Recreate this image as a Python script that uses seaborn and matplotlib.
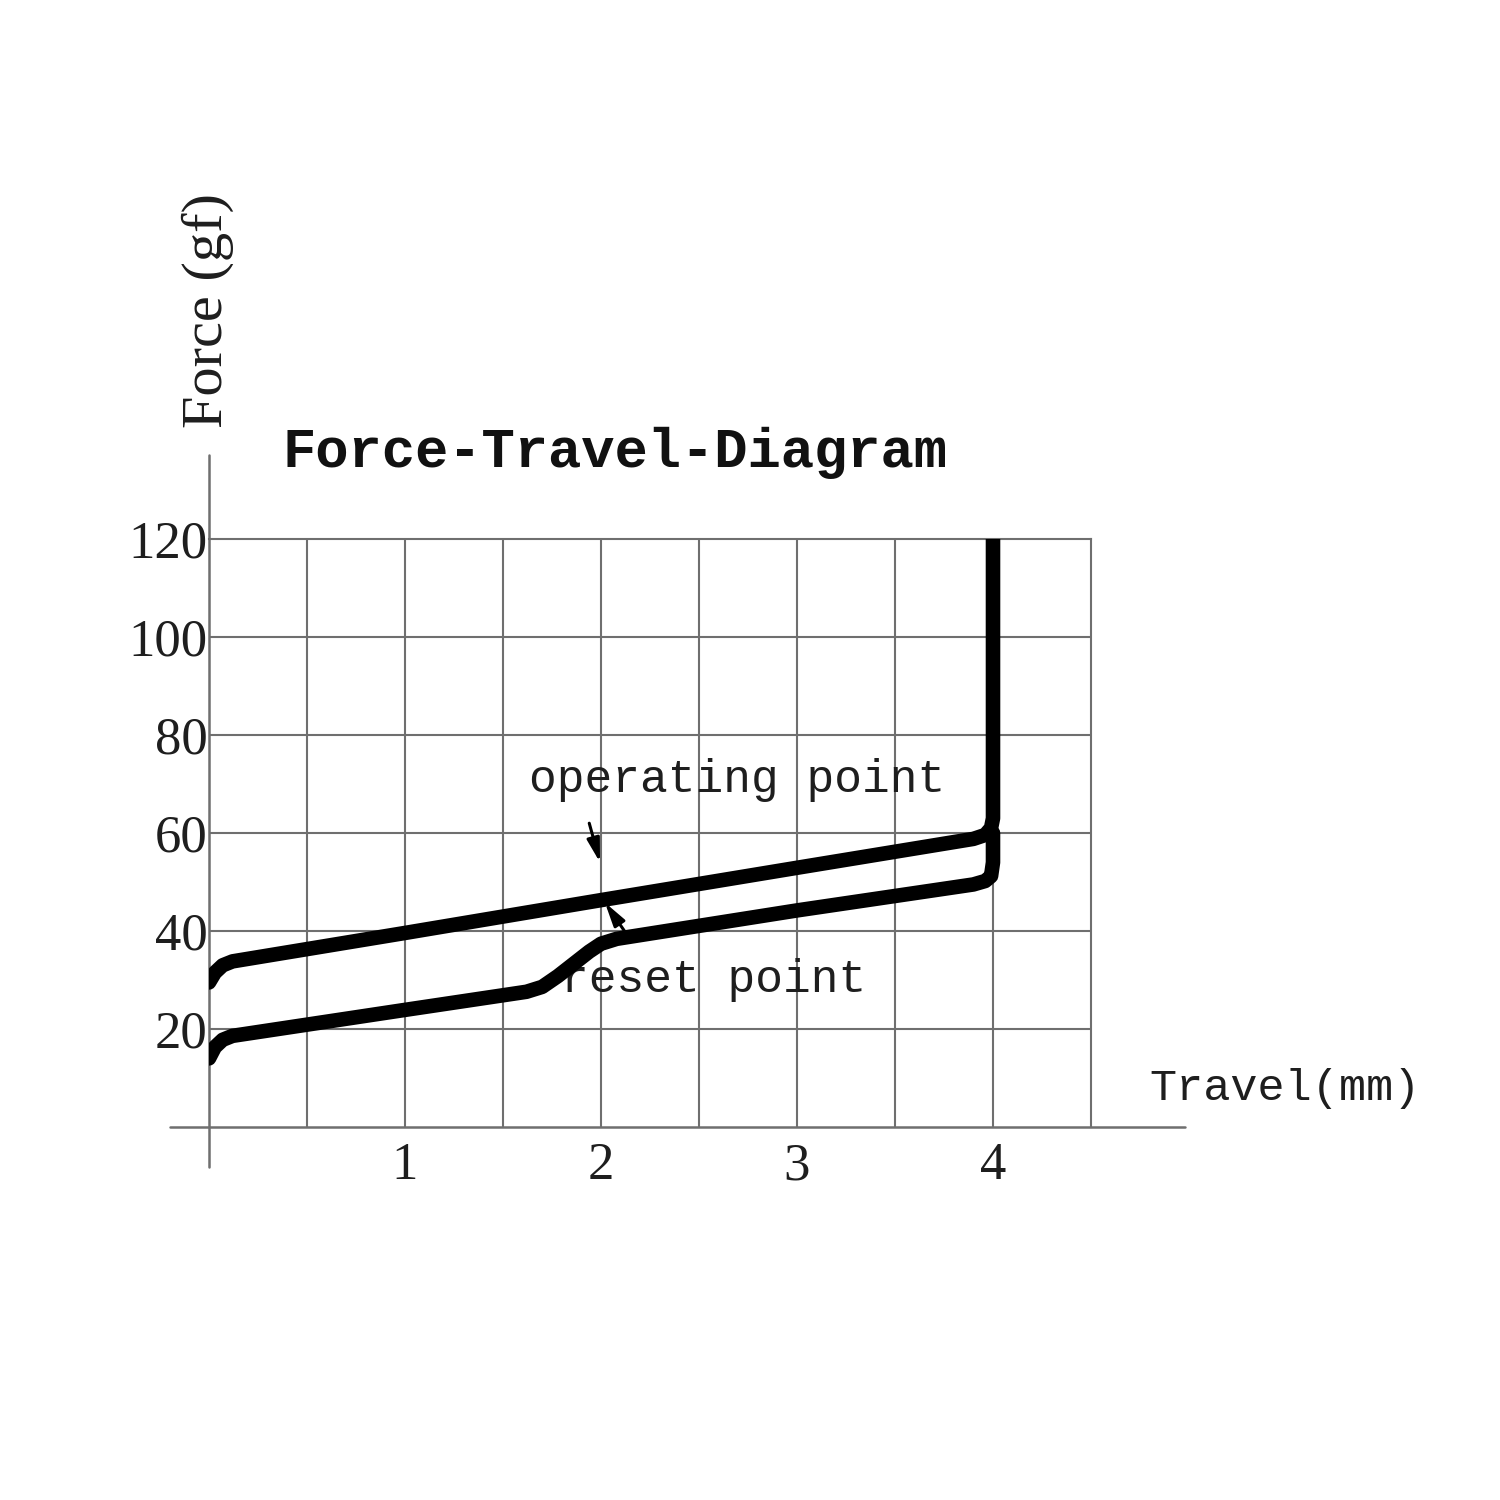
import numpy as np
import pandas as pd
import matplotlib
matplotlib.use("Agg")
import matplotlib.pyplot as plt
import seaborn as sns

# ---------------- data ----------------
travel_operate = [0.0, 0.03, 0.07, 0.12, 1.0, 2.0, 3.0, 3.9, 3.96, 3.99, 4.0, 4.0]
force_operate = [29.5, 31.5, 33.0, 33.8, 39.6, 46.3, 52.9, 58.8, 59.6, 61.0, 63.0, 120.0]

travel_reset = [0.0, 0.03, 0.07, 0.12, 1.0, 1.62, 1.70, 1.78, 1.86, 1.94, 2.0, 2.08, 3.0, 3.9, 3.96, 3.99, 4.0, 4.0]
force_reset = [14.0, 16.3, 17.8, 18.6, 23.9, 27.6, 28.6, 30.8, 33.3, 35.8, 37.4, 38.4, 44.2, 49.5, 50.2, 51.2, 54.0, 60.0]

x_ticks = [1, 2, 3, 4]
y_ticks = [20, 40, 60, 80, 100, 120]
x_grid = [0.5, 1.0, 1.5, 2.0, 2.5, 3.0, 3.5, 4.0, 4.5]
y_grid = [20, 40, 60, 80, 100, 120]

title_text = "Force-Travel-Diagram"
xlabel_text = "Travel(mm)"
ylabel_text = "Force (gf)"
operating_label = "operating point"
reset_label = "reset point"

# annotation anchors (data coords)
operating_arrow_tip = (1.995, 54.0)
operating_arrow_tail = (1.94, 62.0)
reset_arrow_tip = (2.02, 45.8)
reset_arrow_tail = (2.13, 39.4)

# ---------------- style ----------------
sns.set_theme(style="white")
plt.rcParams["font.family"] = ["Liberation Serif", "DejaVu Serif"]

fig = plt.figure(figsize=(15, 15), dpi=100)
ax = fig.add_axes([209 / 1500, 1 - 1127 / 1500, 882 / 1500, 588 / 1500])
ax.set_xlim(0, 4.5)
ax.set_ylim(0, 120)

grid_color = "#6f6f6f"
grid_lw = 1.5

for s in ["left", "bottom"]:
    ax.spines[s].set_visible(False)
for s in ["top", "right"]:
    ax.spines[s].set_visible(True)
    ax.spines[s].set_color(grid_color)
    ax.spines[s].set_linewidth(grid_lw)

# grid lines
for gx in x_grid[:-1]:
    ax.axvline(gx, color=grid_color, lw=grid_lw, zorder=1)
for gy in y_grid[:-1]:
    ax.axhline(gy, color=grid_color, lw=grid_lw, zorder=1)

# extended axis lines
ax.axhline(0, xmin=-0.198 / 4.5, xmax=4.982 / 4.5, color=grid_color, lw=grid_lw + 0.3, clip_on=False, zorder=1)
ax.axvline(0, ymin=-8.16 / 120, ymax=137.1 / 120, color=grid_color, lw=grid_lw + 0.3, clip_on=False, zorder=1)

# curves
df_op = pd.DataFrame({"travel": travel_operate, "force": force_operate})
df_rs = pd.DataFrame({"travel": travel_reset, "force": force_reset})
for df in (df_op, df_rs):
    sns.lineplot(data=df, x="travel", y="force", sort=False, estimator=None,
                 color="black", linewidth=10.5, ax=ax, zorder=3,
                 solid_capstyle="round", solid_joinstyle="round")

# ticks
ax.set_xticks(x_ticks)
ax.set_xticklabels([str(t) for t in x_ticks])
ax.set_yticks(y_ticks)
ax.set_yticklabels([str(t) for t in y_ticks])
ax.tick_params(axis="both", length=0, labelsize=38, colors="#1e1e1e")
ax.tick_params(axis="x", pad=11)
ax.tick_params(axis="y", pad=1)
ax.set_xlabel("")
ax.set_ylabel("")
ax.grid(False)

mono = ["Liberation Mono", "DejaVu Sans Mono"]

# title
ax.text(0.377, 137.6, title_text, fontsize=40, fontfamily=mono, fontweight="bold",
        ha="left", va="center", color="#111111")

# axis labels
ax.text(4.80, 7.9, xlabel_text, fontsize=32.5, fontfamily=mono, ha="left", va="center",
        color="#1e1e1e", clip_on=False)
ax.text(-0.005, 166.7, ylabel_text, fontsize=42, rotation=90, ha="center", va="center",
        color="#1e1e1e", clip_on=False)

# curve labels
ax.text(1.634, 70.8, operating_label, fontsize=33.3, fontfamily=mono, ha="left", va="center",
        color="#1e1e1e")
ax.text(1.796, 30.0, reset_label, fontsize=33.3, fontfamily=mono, ha="left", va="center",
        color="#1e1e1e", zorder=2)

arrow_kw = dict(arrowstyle="-|>,head_length=1.3,head_width=0.35", color="black", lw=2.2,
                mutation_scale=11, shrinkA=0, shrinkB=0)
ax.annotate("", xy=operating_arrow_tip, xytext=operating_arrow_tail, arrowprops=arrow_kw, zorder=4)
ax.annotate("", xy=reset_arrow_tip, xytext=reset_arrow_tail, arrowprops=arrow_kw, zorder=4)

fig.savefig("out.png", dpi=100, facecolor="white")
